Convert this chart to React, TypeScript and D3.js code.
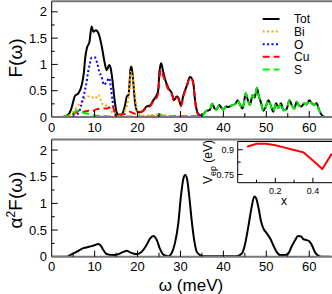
import * as d3 from 'd3';

// omega (meV) / value pairs
const totW = [0, 2, 3, 4, 4.5, 5, 5.4, 6.2, 7, 7.5, 7.8, 8.2, 8.8, 9.3, 9.7, 10.3, 10.9, 11.6, 12.3, 12.8, 13.4, 13.7, 14.2, 14.6, 15.1, 15.8, 16.3, 17.1, 17.5, 17.9, 18.4, 18.6, 19.0, 19.4, 20.0, 20.6, 21.4, 22.1, 22.9, 23.7, 24.3, 24.8, 25.1, 25.5, 25.9, 26.4, 27.2, 28.0, 28.5, 29.1, 29.5, 30.1, 30.7, 31.5, 32.2, 32.6, 33.0, 33.4, 34.0, 34.6, 35.3, 36.1, 36.8, 37.4, 37.9, 38.4, 39, 39.5, 40, 40.6, 41.2, 41.7, 42.3, 42.8, 43.3, 43.9, 44.5, 45.2, 45.7, 46.2, 46.8, 47.3, 47.8, 48.2, 48.8, 49.3, 49.9, 50.5, 51, 51.6, 52.3, 52.8, 53.4, 54, 54.7, 55.4, 55.9, 56.5, 57.1, 57.6, 58.2, 58.8, 59.4, 60, 60.6, 61.2, 61.7, 62.3, 62.9, 63.7, 65];
const totF = [0, 0, 0.01, 0.06, 0.14, 0.29, 0.4, 0.45, 0.61, 0.85, 1.12, 1.31, 1.43, 1.72, 1.62, 1.65, 1.59, 1.37, 1.05, 0.89, 0.99, 0.94, 0.67, 0.36, 0.1, 0.02, 0.04, 0.23, 0.39, 0.42, 0.93, 0.96, 0.67, 0.29, 0.1, 0.09, 0.13, 0.2, 0.22, 0.32, 0.39, 0.5, 0.86, 1.02, 0.89, 0.72, 0.55, 0.45, 0.32, 0.39, 0.37, 0.22, 0.42, 0.6, 0.76, 0.74, 0.64, 0.32, 0.08, 0.03, 0.05, 0.12, 0.13, 0.25, 0.17, 0.14, 0.23, 0.18, 0.14, 0.2, 0.19, 0.21, 0.23, 0.25, 0.32, 0.23, 0.16, 0.45, 0.32, 0.23, 0.42, 0.37, 0.55, 0.42, 0.26, 0.12, 0.2, 0.32, 0.23, 0.1, 0.26, 0.17, 0.26, 0.13, 0.15, 0.32, 0.23, 0.16, 0.29, 0.22, 0.2, 0.26, 0.24, 0.32, 0.26, 0.23, 0.26, 0.13, 0.04, 0, 0];

const biW = [0, 2.5, 3.5, 4.5, 5.5, 6.6, 7.8, 8.5, 9.3, 10.1, 10.9, 11.4, 12, 12.6, 13.2, 14, 15.1, 16.3, 17.1, 17.9, 18.4, 18.8, 19.2, 19.7, 20.2, 21, 23, 25, 26, 28, 30, 33, 35, 65];
const biF = [0, 0, 0.02, 0.05, 0.15, 0.26, 0.36, 0.39, 0.38, 0.35, 0.42, 0.32, 0.23, 0.22, 0.2, 0.1, 0.03, 0.03, 0.12, 0.36, 0.86, 0.8, 0.55, 0.23, 0.05, 0.02, 0.03, 0.05, 0.04, 0.02, 0.02, 0.01, 0, 0];

const oW = [0, 5, 6, 6.5, 7, 7.5, 8, 8.5, 8.9, 9.3, 10.1, 10.6, 11.1, 11.6, 12.2, 12.8, 13.4, 13.8, 14.2, 14.6, 15.1, 16, 24, 25, 26, 27, 65];
const oF = [0, 0, 0.05, 0.12, 0.26, 0.42, 0.61, 0.86, 1.02, 1.13, 1.13, 1.02, 0.86, 0.77, 0.61, 0.67, 0.74, 0.55, 0.29, 0.1, 0.02, 0, 0, 0.03, 0.02, 0, 0];

const cuW = [0, 4, 5, 6, 6.6, 7.5, 8.5, 9.3, 10.5, 11.6, 12.8, 13.6, 14, 14.7, 15.5, 16.5, 17.5, 18.2, 18.8, 19.5, 20, 20.6, 21.4, 22.1, 22.9, 23.7, 24.3, 24.8, 25.1, 25.5, 25.9, 26.4, 27.2, 28, 28.5, 29.1, 29.5, 30.1, 30.7, 31.5, 32.2, 32.6, 33, 33.4, 34, 34.6, 36, 65];
const cuF = [0, 0, 0.05, 0.1, 0.13, 0.1, 0.12, 0.1, 0.15, 0.16, 0.16, 0.2, 0.23, 0.1, 0.05, 0.05, 0.07, 0.1, 0.08, 0.06, 0.07, 0.09, 0.12, 0.18, 0.2, 0.3, 0.35, 0.45, 0.75, 0.89, 0.8, 0.68, 0.52, 0.43, 0.31, 0.37, 0.35, 0.2, 0.4, 0.58, 0.75, 0.73, 0.63, 0.3, 0.06, 0.01, 0, 0];

const sW = [0, 3, 4.3, 5.4, 5.8, 6.6, 7.8, 8.9, 10, 12, 14, 16, 20, 24, 25, 26, 28, 30, 33, 34.6, 35.3, 36.1, 36.8, 37.4, 37.9, 38.4, 39, 39.5, 40, 40.6, 41.2, 41.7, 42.3, 42.8, 43.3, 43.9, 44.5, 45.2, 45.7, 46.2, 46.8, 47.3, 47.8, 48.2, 48.8, 49.3, 49.9, 50.5, 51, 51.6, 52.3, 52.8, 53.4, 54, 54.7, 55.4, 55.9, 56.5, 57.1, 57.6, 58.2, 58.8, 59.4, 60, 60.6, 61.2, 61.7, 62.3, 62.9, 63.7, 65];
const sF = [0, 0, 0.04, 0.09, 0.13, 0.1, 0.07, 0.05, 0.03, 0.02, 0.01, 0.01, 0.01, 0.02, 0.05, 0.02, 0.02, 0.02, 0.02, 0.03, 0.05, 0.12, 0.13, 0.25, 0.17, 0.14, 0.23, 0.18, 0.14, 0.2, 0.19, 0.21, 0.23, 0.25, 0.32, 0.23, 0.16, 0.45, 0.32, 0.23, 0.42, 0.37, 0.55, 0.42, 0.26, 0.12, 0.2, 0.32, 0.23, 0.1, 0.26, 0.17, 0.26, 0.13, 0.15, 0.32, 0.23, 0.16, 0.29, 0.22, 0.2, 0.26, 0.24, 0.32, 0.26, 0.23, 0.26, 0.13, 0.04, 0, 0];

const a2fW = [0, 3.5, 4.3, 5.8, 7.4, 8.9, 10.1, 10.7, 11.3, 12, 12.8, 14, 14.7, 15.9, 16.7, 17.5, 18.3, 19.0, 19.9, 20.9, 22.1, 22.9, 23.7, 24.5, 25.2, 26, 27.2, 27.9, 28.7, 29.5, 30.1, 30.7, 31.1, 31.5, 32.05, 32.6, 33.2, 33.8, 34.6, 35.4, 39.2, 43.1, 44.3, 45, 45.8, 46.6, 47.2, 47.6, 48.2, 48.7, 49.3, 50.1, 50.9, 51.6, 52.4, 53.2, 54.3, 55.1, 55.9, 56.7, 57.4, 58.1, 58.6, 59.4, 60, 60.6, 61.3, 62.1, 62.9, 65];
const a2fV = [0, 0, 0.03, 0.09, 0.16, 0.19, 0.22, 0.24, 0.22, 0.13, 0.05, 0.03, 0.03, 0.06, 0.09, 0.11, 0.08, 0.06, 0.05, 0.09, 0.22, 0.34, 0.39, 0.31, 0.15, 0.04, 0.01, 0.06, 0.25, 0.63, 1.13, 1.47, 1.53, 1.47, 1.13, 0.69, 0.31, 0.09, 0.03, 0.01, 0.01, 0.01, 0.06, 0.22, 0.56, 0.94, 1.13, 1.1, 0.91, 0.69, 0.53, 0.44, 0.34, 0.22, 0.09, 0.03, 0.03, 0.06, 0.19, 0.31, 0.39, 0.38, 0.33, 0.31, 0.29, 0.22, 0.09, 0.02, 0, 0];

// inset: V_ep vs x
const insetX = [0.05, 0.1, 0.15, 0.2, 0.25, 0.3, 0.35, 0.4, 0.45, 0.5];
const insetV = [0.918, 0.936, 0.936, 0.927, 0.913, 0.898, 0.884, 0.835, 0.783, 0.875];

const legendNames = ['Tot', 'Bi', 'O', 'Cu', 'S'];
const xTicks = [0, 10, 20, 30, 40, 50, 60];
const yTicks = [0, 0.5, 1, 1.5, 2];
const yTickLabels = ['0', '0.5', '1', '1.5', '2'];

const FONT = '"Liberation Sans", Arial, sans-serif';

const styles = [
  { color: '#000', dash: undefined as string | undefined },
  { color: '#ffa500', dash: '2,2.4' },
  { color: '#0000ff', dash: '2,2.4' },
  { color: '#ff0000', dash: '7,4' },
  { color: '#00ee00', dash: '7,4' },
];

export default function App() {
  const x = d3.scaleLinear().domain([0, 65]).range([51.7, 330.7]);
  const yTop = d3.scaleLinear().domain([0, 2.2]).range([117, 1.3]);
  const yBot = d3.scaleLinear().domain([0, 2.2]).range([256.7, 139.4]);
  const ix = d3.scaleLinear().domain([0, 0.5]).range([237.7, 331.7]);
  const iy = d3.scaleLinear().domain([0.7, 0.95]).range([182.7, 141.5]);

  const mk = (ws: number[], vs: number[], ys: d3.ScaleLinear<number, number>) =>
    d3
      .line<number>()
      .x(i => x(ws[i]))
      .y(i => ys(vs[i]))
      .curve(d3.curveMonotoneX)(d3.range(ws.length)) || '';

  const series = [
    [totW, totF],
    [biW, biF],
    [oW, oF],
    [cuW, cuF],
    [sW, sF],
  ];

  const insetPath =
    d3
      .line<number>()
      .x(i => ix(insetX[i]))
      .y(i => iy(insetV[i]))(d3.range(insetX.length)) || '';

  const minorX = d3.range(5, 65, 10);
  const minorY = [0.25, 0.75, 1.25, 1.75];

  const panel = (ys: d3.ScaleLinear<number, number>, key: string) => {
    const y0 = ys(0);
    const yT = ys(2.2);
    return (
      <g key={key}>
        <line x1={x(0)} x2={332} y1={yT} y2={yT} stroke="#777" strokeWidth={2} />
        <line x1={x(0)} x2={332} y1={y0} y2={y0} stroke="#777" strokeWidth={2} />
        <line x1={x(0)} x2={x(0)} y1={yT} y2={y0} stroke="#000" strokeWidth={1} />
        {xTicks.map(t => (
          <g key={t}>
            {t > 0 && <line x1={x(t)} x2={x(t)} y1={y0} y2={y0 - 6} stroke="#000" />}
            <text x={x(t)} y={y0 + 14.5} textAnchor="middle" fontSize={13}>
              {t}
            </text>
          </g>
        ))}
        {minorX.map(t => (
          <line key={t} x1={x(t)} x2={x(t)} y1={y0} y2={y0 - 4} stroke="#000" />
        ))}
        {yTicks.map((t, i) => (
          <g key={t}>
            {t > 0 && <line x1={x(0)} x2={x(0) + 6} y1={ys(t)} y2={ys(t)} stroke="#000" />}
            <text x={47} y={ys(t)} dy="0.36em" textAnchor="end" fontSize={13}>
              {yTickLabels[i]}
            </text>
          </g>
        ))}
        {minorY.map(t => (
          <line key={t} x1={x(0)} x2={x(0) + 3} y1={ys(t)} y2={ys(t)} stroke="#000" />
        ))}
      </g>
    );
  };

  return (
    <svg
      width={332}
      height={294}
      style={{ position: 'absolute', left: 0, top: 0, background: '#fff' }}
      fontFamily={FONT}
    >
      <defs>
        <clipPath id="cTop">
          <rect x={x(0)} y={yTop(2.2)} width={332 - x(0)} height={yTop(0) - yTop(2.2)} />
        </clipPath>
        <clipPath id="cBot">
          <rect x={x(0)} y={yBot(2.2)} width={332 - x(0)} height={yBot(0) - yBot(2.2)} />
        </clipPath>
      </defs>

      {/* top panel: partial phonon DOS */}
      <g clipPath="url(#cTop)">
        {series.map(([ws, vs], i) => (
          <path
            key={i}
            d={mk(ws, vs, yTop)}
            fill="none"
            stroke={styles[i].color}
            strokeWidth={2}
            strokeDasharray={styles[i].dash}
          />
        ))}
      </g>
      {panel(yTop, 'top')}

      {/* legend */}
      {legendNames.map((n, i) => {
        const ly = 19 + i * 12.6;
        return (
          <g key={n}>
            <line
              x1={262.7}
              x2={279.5}
              y1={ly}
              y2={ly}
              stroke={styles[i].color}
              strokeWidth={2}
              strokeDasharray={styles[i].dash}
            />
            <text x={294} y={ly} dy="0.36em" fontSize={12}>
              {n}
            </text>
          </g>
        );
      })}

      <text transform="translate(22,58) rotate(-90)" textAnchor="middle" fontSize={19}>
        F(ω)
      </text>

      {/* bottom panel: Eliashberg function */}
      <g clipPath="url(#cBot)">
        <path d={mk(a2fW, a2fV, yBot)} fill="none" stroke="#000" strokeWidth={2} />
      </g>
      {panel(yBot, 'bot')}

      <text transform="translate(22,200) rotate(-90)" textAnchor="middle" fontSize={19}>
        α<tspan dy={-7} fontSize={12}>2</tspan>
        <tspan dy={7}>F(ω)</tspan>
      </text>
      <text x={191} y={291} textAnchor="middle" fontSize={17}>
        ω (meV)
      </text>

      {/* inset */}
      <rect x={ix(0)} y={iy(0.95)} width={332 - ix(0)} height={iy(0.7) - iy(0.95)} fill="#fff" />
      <line x1={ix(0)} x2={332} y1={iy(0.95)} y2={iy(0.95)} stroke="#000" />
      <line x1={ix(0)} x2={332} y1={iy(0.7)} y2={iy(0.7)} stroke="#000" />
      <line x1={ix(0)} x2={ix(0)} y1={iy(0.95)} y2={iy(0.7)} stroke="#000" />
      {[0.1, 0.2, 0.3, 0.4].map(t => (
        <line key={t} x1={ix(t)} x2={ix(t)} y1={iy(0.7)} y2={iy(0.7) - (t === 0.2 || t === 0.4 ? 5 : 3)} stroke="#000" />
      ))}
      {[0.2, 0.4].map(t => (
        <text key={t} x={ix(t)} y={iy(0.7) + 11} textAnchor="middle" fontSize={9}>
          {t}
        </text>
      ))}
      {[0.75, 0.825, 0.9].map(t => (
        <line key={t} x1={ix(0)} x2={ix(0) + (t === 0.825 ? 3 : 5)} y1={iy(t)} y2={iy(t)} stroke="#000" />
      ))}
      {[0.75, 0.9].map(t => (
        <text key={t} x={234} y={iy(t)} dy="0.36em" textAnchor="end" fontSize={9}>
          {t}
        </text>
      ))}
      <path d={insetPath} fill="none" stroke="#ff0000" strokeWidth={2} />
      <text x={284} y={205} textAnchor="middle" fontSize={12}>
        x
      </text>
      <text transform="translate(212,162) rotate(-90)" textAnchor="middle" fontSize={12}>
        V<tspan dy={4} fontSize={9}>ep</tspan>
        <tspan dy={-4}> (eV)</tspan>
      </text>
    </svg>
  );
}
